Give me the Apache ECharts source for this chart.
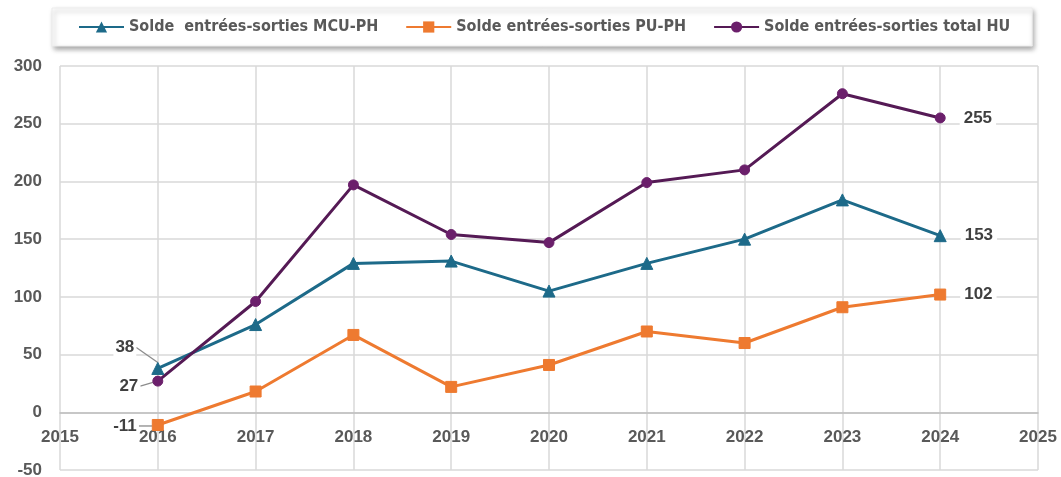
<!DOCTYPE html>
<html><head><meta charset="utf-8">
<script src="https://cdn.jsdelivr.net/npm/echarts@6/dist/echarts.min.js"></script>
<style>html,body{margin:0;padding:0;background:#fff}#c{width:1061px;height:477px}</style>
</head><body><div id="c"></div>
<script>
const years = [2016, 2017, 2018, 2019, 2020, 2021, 2022, 2023, 2024];
const mcuName = 'Solde  entrées-sorties MCU-PH';
const puName = 'Solde entrées-sorties PU-PH';
const huName = 'Solde entrées-sorties total HU';
const mcuValues = [38, 76, 129, 131, 105, 129, 150, 184, 153];
const puValues = [-11, 18, 67, 22, 41, 70, 60, 91, 102];
const huValues = [27, 96, 197, 154, 147, 199, 210, 276, 255];
const xMin = 2015, xMax = 2025, yMin = -50, yMax = 300;

const W = 1061, H = 477;
const gridTop = 66, gridBottom = 7;
const zeroOffset = -(H - gridTop - gridBottom) * (0 - yMin) / (yMax - yMin);

const labelFont = {fontFamily: 'Liberation Sans, Arial, sans-serif', fontWeight: 'bold', fontSize: 17, color: '#404040'};
const lastIdx = years.length - 1;

function mkData(vals) {
  return years.map((y, i) => {
    const d = {value: [y, vals[i]]};
    if (i === 0) {
      d.label = Object.assign({show: true, position: 'left', distance: 5,
        backgroundColor: '#fff', padding: [1, 2]}, labelFont);
      d.labelLine = {show: true};
    } else if (i === lastIdx) {
      d.label = Object.assign({show: true, position: 'right', distance: 14,
        backgroundColor: '#fff', padding: [1, 4]}, labelFont);
    }
    return d;
  });
}

function mkSeries(name, vals, color, markerColor, symbol, size, shift) {
  return {
    name, type: 'line', data: mkData(vals),
    symbol, symbolSize: size,
    lineStyle: {color, width: 3},
    itemStyle: {color: markerColor, borderColor: markerColor},
    z: 3,
    labelLine: {show: false, lineStyle: {color: '#8c8c8c', width: 1.3}},
    labelLayout: function (p) {
      if (p.dataIndex === 0) return {dx: shift[0], dy: shift[1]};
      return {};
    }
  };
}

const chart = echarts.init(document.getElementById('c'), null, {renderer: 'canvas'});
chart.setOption({
  animation: false,
  legend: {
    left: 52, top: 8, padding: [11, 22, 11, 26], itemGap: 27, itemWidth: 45, itemHeight: 14,
    backgroundColor: '#fff', borderColor: '#ececec', borderWidth: 1,
    shadowBlur: 5, shadowColor: 'rgba(0,0,0,0.35)', shadowOffsetX: 2, shadowOffsetY: 3,
    textStyle: {fontFamily: 'DejaVu Sans Condensed', fontWeight: 'bold', fontSize: 16, color: '#595959'},
    data: [mcuName, puName, huName]
  },
  grid: {left: 60, right: W - 1038, top: gridTop, bottom: gridBottom, containLabel: false, outerBoundsMode: 'none'},
  xAxis: {
    type: 'value', min: xMin, max: xMax, interval: 1,
    offset: zeroOffset,
    axisLine: {onZero: false, lineStyle: {color: '#bfbfbf', width: 1.5}},
    axisTick: {show: false},
    axisLabel: {fontFamily: 'Liberation Sans, Arial, sans-serif', fontWeight: 'bold', fontSize: 17, color: '#595959', margin: 17,
      showMinLabel: true, showMaxLabel: true, formatter: v => String(v)},
    splitLine: {show: true, lineStyle: {color: '#d9d9d9', width: 1.5}}
  },
  yAxis: {
    type: 'value', min: yMin, max: yMax, interval: 50,
    axisLine: {show: false}, axisTick: {show: false},
    axisLabel: {fontFamily: 'Liberation Sans, Arial, sans-serif', fontWeight: 'bold', fontSize: 17, color: '#595959', margin: 18},
    splitLine: {show: true, lineStyle: {color: '#d9d9d9', width: 1.5}}
  },
  series: [
    mkSeries(mcuName, mcuValues, '#1d6a89', '#1d6a89', 'triangle', 12, [-10, -21]),
    mkSeries(puName, puValues, '#ee7a30', '#ee7a30', 'rect', 11, [-8, 1]),
    mkSeries(huName, huValues, '#551a55', '#6b1f6b', 'circle', 10, [-7, 5])
  ]
});
</script></body></html>
